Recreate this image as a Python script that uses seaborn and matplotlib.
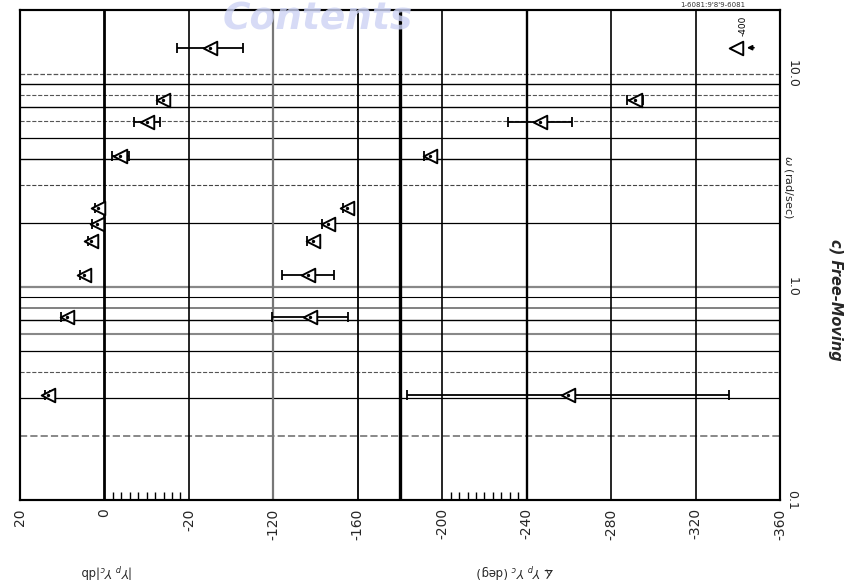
import numpy as np
import matplotlib
matplotlib.use("Agg")
import matplotlib.pyplot as plt
import seaborn as sns
import pandas as pd

# Measured describing-function points, free-moving case
OMEGA = [0.31, 0.72, 1.14, 1.64, 1.98, 2.35, 4.14, 5.95, 7.55, 13.3]
MAG_DB = [13.4, 8.9, 4.9, 3.2, 1.8, 1.5, -3.7, -10.1, -13.9, -25.0]
MAG_ERR = [0.6, 1.5, 1.0, 0.8, 1.2, 0.8, 2.0, 3.0, 1.5, 7.8]
PHASE_OMEGA = [0.31, 0.72, 1.14, 1.64, 1.98, 2.35, 4.14, 5.95, 7.55]
PHASE_DEG = [-259.6, -137.4, -136.4, -138.8, -145.9, -154.9, -194.2, -246.3, -291.3]
PHASE_ERR = [76.3, 18.2, 12.3, 3.0, 3.0, 2.0, 3.0, 15.2, 4.0]
OFFSCALE_OMEGA = 13.3
OFFSCALE_PHASE = -400

MAG_TICKS = [20, 0, -20]
PHASE_TICKS = [-120, -160, -200, -240, -280, -320, -360]
OMEGA_TICKS = [0.1, 1.0, 10.0]
OMEGA_TICK_LABELS = ["0.1", "1.0", "10.0"]

sns.set_theme(style="white")
plt.rcParams["font.family"] = ["DejaVu Sans"]

fig = plt.figure(figsize=(8.53, 5.88), dpi=100)
ax = fig.add_axes([20 / 853, 1 - 500 / 588, 760 / 853, 490 / 588])
ax_mag = ax.twiny()

PH_LIM = (0, -360)
MAG_LIM = (20, -160)
W_LIM = (0.1, 20)

ax.set_yscale("log")
ax.set_xlim(*PH_LIM)
ax.set_ylim(*W_LIM)
ax_mag.set_xlim(*MAG_LIM)

# frequency grid: every 1-9 multiple of each decade
hstyles = {
    0.2: ("#888888", 1.4, "--"), 0.3: ("black", 0.9, "-"), 0.4: ("#555555", 0.8, "--"),
    0.5: ("black", 0.9, "-"), 0.6: ("#888888", 1.5, "-"), 0.7: ("black", 1.0, "-"),
    0.8: ("#777777", 1.3, "-"), 0.9: ("black", 0.8, "-"), 1.0: ("#888888", 1.6, "-"),
    2.0: ("black", 0.9, "-"), 3.0: ("#444444", 0.8, "--"), 4.0: ("black", 1.0, "-"),
    5.0: ("black", 0.9, "-"), 6.0: ("#555555", 0.8, "--"), 7.0: ("black", 1.0, "-"),
    8.0: ("#555555", 0.8, "--"), 9.0: ("black", 1.0, "-"), 10.0: ("#555555", 0.9, "--"),
}
for w, (c, lw, ls) in hstyles.items():
    ax.axhline(w, color=c, lw=lw, ls=ls, zorder=1)

# amplitude / phase grid
for m, lw in [(0, 2.0), (-20, 1.2)]:
    ax_mag.axvline(m, color="black", lw=lw, zorder=1)
vstyles = {-120: ("#777777", 1.6), -160: ("black", 1.3), -180: ("black", 2.4),
           -200: ("black", 1.2), -240: ("black", 1.7), -280: ("black", 1.2),
           -320: ("black", 1.2)}
for p, (c, lw) in vstyles.items():
    ax.axvline(p, color=c, lw=lw, zorder=1)

# error bars
ax_mag.errorbar(MAG_DB, OMEGA, xerr=MAG_ERR, fmt="none", ecolor="black",
                elinewidth=1.3, capsize=3.5, capthick=1.3, zorder=3)
ax.errorbar(PHASE_DEG, PHASE_OMEGA, xerr=PHASE_ERR, fmt="none", ecolor="black",
            elinewidth=1.3, capsize=3.5, capthick=1.3, zorder=3)

mag_df = pd.DataFrame({"mag": MAG_DB, "omega": OMEGA})
ph_df = pd.DataFrame({"phase": PHASE_DEG, "omega": PHASE_OMEGA})
marker_kw = dict(marker="<", s=95, color="white", edgecolor="black", linewidth=1.4, zorder=4)
sns.scatterplot(data=mag_df, x="mag", y="omega", ax=ax_mag, **marker_kw)
sns.scatterplot(data=ph_df, x="phase", y="omega", ax=ax, **marker_kw)
ax_mag.scatter(MAG_DB, OMEGA, s=2, color="black", zorder=5)
ax.scatter(PHASE_DEG, PHASE_OMEGA, s=2, color="black", zorder=5)

# off-scale phase point, pinned inside the right edge
off_x = max(OFFSCALE_PHASE, PH_LIM[1] + 21)
ax.scatter([off_x], [OFFSCALE_OMEGA], marker="<", s=95, color="white",
           edgecolor="black", linewidth=1.4, zorder=4)
ax.annotate("", xy=(off_x - 4, OFFSCALE_OMEGA), xytext=(off_x - 10, OFFSCALE_OMEGA),
            arrowprops=dict(arrowstyle="-|>", color="black", lw=1.2, mutation_scale=7))
ax.text(off_x - 3.5, OFFSCALE_OMEGA * 1.13, f"{OFFSCALE_PHASE}", rotation=90,
        fontsize=6.5, ha="center", va="bottom", color="black")

ax.set_xlim(*PH_LIM)
ax.set_ylim(*W_LIM)
ax_mag.set_xlim(*MAG_LIM)
ax_mag.set_ylim(*W_LIM)
ax_mag.set_xlabel("")
ax_mag.set_ylabel("")
ax.set_xlabel("")
ax.set_ylabel("")

# ticks
ax.set_xticks(PHASE_TICKS)
ax.set_xticklabels([str(t) for t in PHASE_TICKS], rotation=90, fontsize=10)
ax.set_xticks(np.arange(-236, -200, 4), minor=True)
ax_mag.xaxis.set_ticks_position("bottom")
ax_mag.set_xticks(MAG_TICKS)
ax_mag.set_xticklabels([str(t) for t in MAG_TICKS], rotation=90, fontsize=10)
ax_mag.set_xticks(np.arange(-18, 0, 2), minor=True)
for a in (ax, ax_mag):
    a.tick_params(axis="x", which="major", length=0, pad=6, labelbottom=True, labeltop=False)
    a.tick_params(axis="x", which="minor", direction="in", length=6, width=1.0,
                  color="black", bottom=True, top=False)
ax.yaxis.tick_right()
ax.set_yticks(OMEGA_TICKS)
ax.set_yticklabels(OMEGA_TICK_LABELS, rotation=-90, fontsize=9, va="center")
ax.yaxis.set_minor_formatter(plt.NullFormatter())
ax.tick_params(axis="y", which="both", length=0, pad=4)
ax_mag.tick_params(axis="y", which="both", length=0, labelright=False, labelleft=False)

for a in (ax, ax_mag):
    for s in a.spines.values():
        s.set_color("black")
        s.set_linewidth(1.5)
    a.grid(False)

# axis captions
fig.text(107 / 853, 1 - 570 / 588, r"$|Y_p\ Y_c|$db", rotation=180, fontsize=8.5,
         ha="center", va="center")
fig.text(515 / 853, 1 - 570 / 588, r"$\measuredangle\ Y_p\ Y_c$ (deg)", rotation=180,
         fontsize=8.5, ha="center", va="center")
fig.text(789 / 853, 1 - 187 / 588, r"$\omega$ (rad/sec)", rotation=-90, fontsize=8,
         ha="center", va="center")
fig.text(836 / 853, 1 - 300 / 588, "c) Free-Moving", rotation=-90, fontsize=10.5,
         fontweight="bold", fontstyle="italic", ha="center", va="center")
fig.text(713 / 853, 1 - 5 / 588, "1-6081:9'8'9-6081", fontsize=5, ha="center",
         va="center", color="#333333")
fig.text(318 / 853, 1 - 2 / 588, "Contents", fontsize=27, fontweight="bold",
         fontstyle="italic", color="#cdd3f4", alpha=0.8, ha="center", va="top",
         zorder=0)

fig.savefig("out.png", dpi=100, facecolor="white")
